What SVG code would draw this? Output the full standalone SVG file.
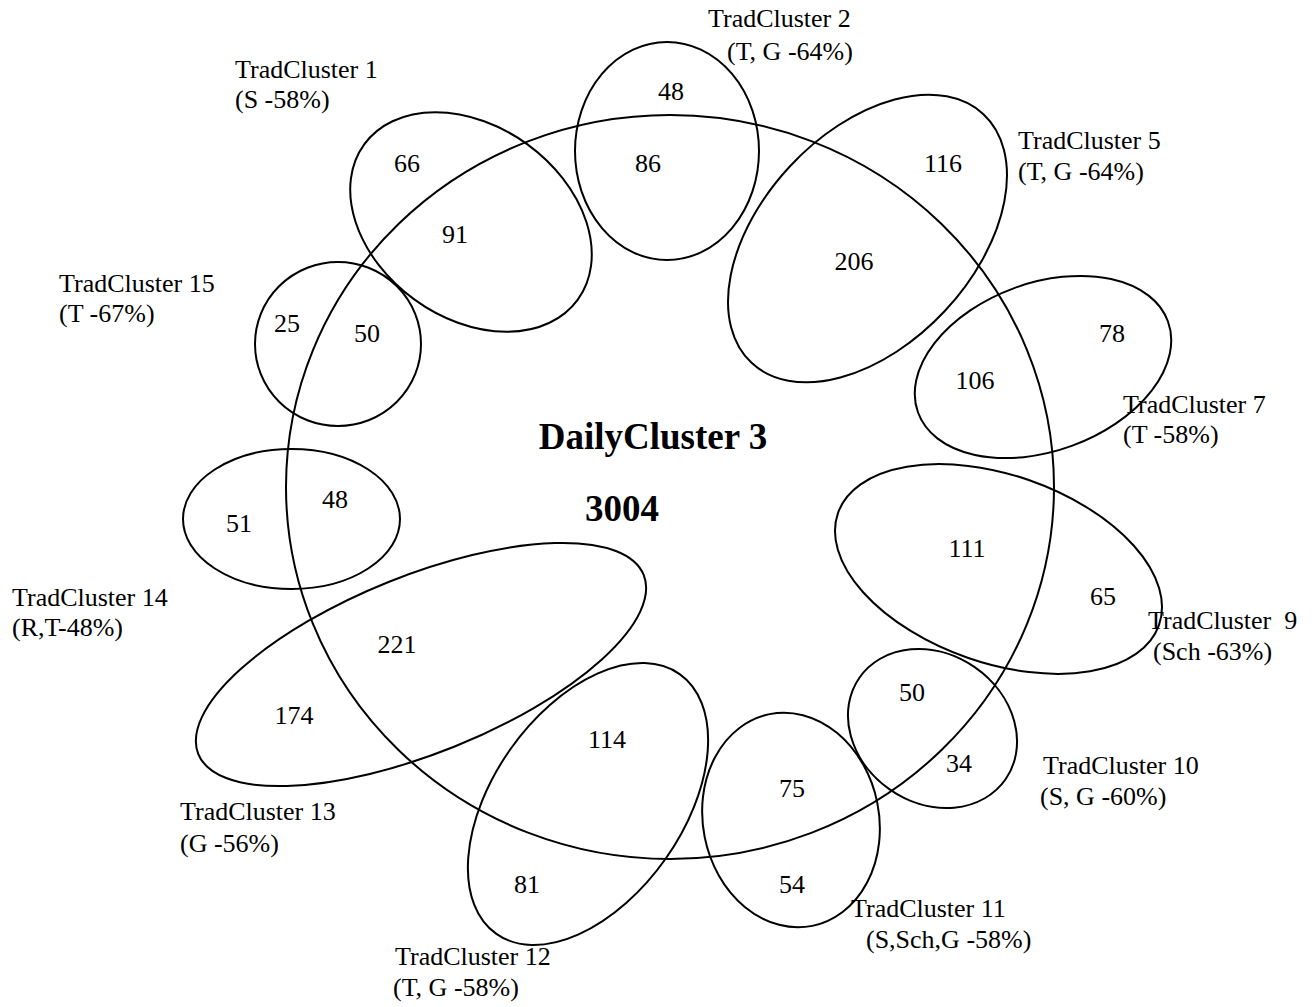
<svg xmlns="http://www.w3.org/2000/svg" width="1316" height="1007" viewBox="0 0 1316 1007">
<style>
.sh{fill:none;stroke:#000;stroke-width:2}
text{font-family:"Liberation Serif","Times New Roman",serif;font-size:26px;fill:#000}
.n{text-anchor:middle}
.big{font-weight:bold;font-size:37px;text-anchor:middle}
</style>
<rect width="1316" height="1007" fill="#fff"/>
<g id="daily-cluster-3">
<ellipse class="sh" cx="670" cy="487" rx="384" ry="372"/>
<text class="big" x="653" y="449">DailyCluster 3</text>
<text class="big" x="622" y="521">3004</text>
</g>
<g id="trad-cluster-1">
<ellipse class="sh" cx="471" cy="222" rx="132" ry="96" transform="rotate(36 471 222)"/>
<text x="235" y="78">TradCluster 1</text>
<text x="235" y="108">(S -58%)</text>
<text class="n" x="407" y="172">66</text>
<text class="n" x="455" y="243">91</text>
</g>
<g id="trad-cluster-2">
<ellipse class="sh" cx="667" cy="151" rx="92" ry="109"/>
<text x="708" y="27">TradCluster 2</text>
<text x="727" y="60">(T, G -64%)</text>
<text class="n" x="671" y="100">48</text>
<text class="n" x="648" y="172">86</text>
</g>
<g id="trad-cluster-5">
<ellipse class="sh" cx="867.5" cy="238.5" rx="170" ry="106" transform="rotate(-47 867.5 238.5)"/>
<text x="1018" y="149">TradCluster 5</text>
<text x="1018" y="180">(T, G -64%)</text>
<text class="n" x="943" y="172">116</text>
<text class="n" x="854" y="270">206</text>
</g>
<g id="trad-cluster-7">
<ellipse class="sh" cx="1043" cy="367" rx="133" ry="84" transform="rotate(-20 1043 367)"/>
<text x="1123" y="413">TradCluster 7</text>
<text x="1123" y="443">(T -58%)</text>
<text class="n" x="1112" y="342">78</text>
<text class="n" x="975" y="389">106</text>
</g>
<g id="trad-cluster-9">
<ellipse class="sh" cx="998.5" cy="569" rx="170" ry="94" transform="rotate(19.2 998.5 569)"/>
<text x="1148" y="629" xml:space="preserve">TradCluster  9</text>
<text x="1153" y="660">(Sch -63%)</text>
<text class="n" x="967" y="557">111</text>
<text class="n" x="1103" y="605">65</text>
</g>
<g id="trad-cluster-10">
<ellipse class="sh" cx="932.5" cy="728.5" rx="89" ry="74.5" transform="rotate(34.8 932.5 728.5)"/>
<text x="1043" y="774">TradCluster 10</text>
<text x="1040" y="805">(S, G -60%)</text>
<text class="n" x="912" y="701">50</text>
<text class="n" x="959" y="772">34</text>
</g>
<g id="trad-cluster-11">
<ellipse class="sh" cx="791" cy="820" rx="108" ry="88" transform="rotate(78.6 791 820)"/>
<text x="851" y="917">TradCluster 11</text>
<text x="866" y="948">(S,Sch,G -58%)</text>
<text class="n" x="792" y="797">75</text>
<text class="n" x="792" y="893">54</text>
</g>
<g id="trad-cluster-12">
<ellipse class="sh" cx="588" cy="804" rx="159" ry="95" transform="rotate(-54.8 588 804)"/>
<text x="395" y="965">TradCluster 12</text>
<text x="393" y="996">(T, G -58%)</text>
<text class="n" x="607" y="748">114</text>
<text class="n" x="527" y="893">81</text>
</g>
<g id="trad-cluster-13">
<ellipse class="sh" cx="421" cy="664.5" rx="240" ry="88.7" transform="rotate(-21.9 421 664.5)"/>
<text x="180" y="820">TradCluster 13</text>
<text x="180" y="852">(G -56%)</text>
<text class="n" x="397" y="653">221</text>
<text class="n" x="294" y="724">174</text>
</g>
<g id="trad-cluster-14">
<ellipse class="sh" cx="291.5" cy="519" rx="108.5" ry="70"/>
<text x="12" y="606">TradCluster 14</text>
<text x="12" y="636">(R,T-48%)</text>
<text class="n" x="239" y="532">51</text>
<text class="n" x="335" y="508">48</text>
</g>
<g id="trad-cluster-15">
<ellipse class="sh" cx="338" cy="344" rx="83" ry="82"/>
<text x="59" y="292">TradCluster 15</text>
<text x="59" y="322">(T -67%)</text>
<text class="n" x="287" y="332">25</text>
<text class="n" x="367" y="342">50</text>
</g>
<g id="connectors"/>
</svg>
